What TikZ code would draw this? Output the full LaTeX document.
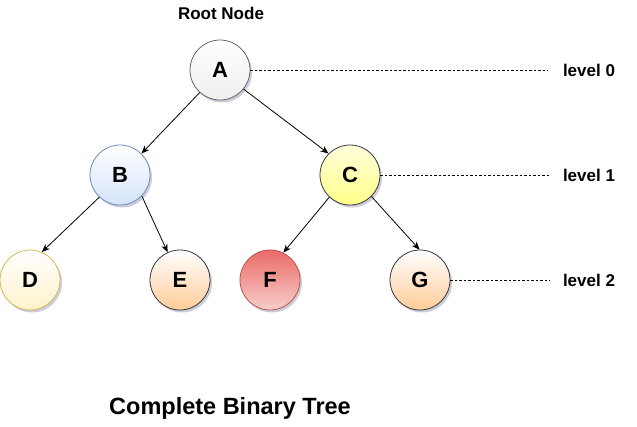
\documentclass[tikz,border=0pt]{standalone}
\usepackage{fontspec}
\setmainfont{Liberation Sans}
\usepackage{xcolor}
\usepackage{tikz}
\usetikzlibrary{arrows.meta,shadows}

\definecolor{bordoA}{HTML}{666666}
\definecolor{fondoA}{HTML}{EFEFEF}
\definecolor{bordoB}{HTML}{6C8EBF}
\definecolor{fondoB}{HTML}{D4E4FA}
\definecolor{bordoC}{HTML}{36393D}
\definecolor{fondoC}{HTML}{FFFF88}
\definecolor{bordoD}{HTML}{D6B656}
\definecolor{fondoD}{HTML}{FFF2CC}
\definecolor{fondoE}{HTML}{FFCC99}
\definecolor{bordoF}{HTML}{B85450}
\definecolor{altoF}{HTML}{EA6B66}
\definecolor{bassoF}{HTML}{F8CECC}

\begin{document}
\begin{tikzpicture}[x=1pt, y=-1pt,
  nodo/.style={circle, minimum size=60pt, inner sep=0pt, line width=0.8pt,
    font=\fontsize{22}{22}\selectfont\bfseries,
    drop shadow={shadow xshift=2pt, shadow yshift=-2.5pt, opacity=0.2, fill=black!70!blue}},
  freccia/.style={line width=0.8pt, -{Stealth[length=8pt,width=6.5pt,inset=2.5pt]}},
  livello/.style={line width=0.6pt, dash pattern=on 2.5pt off 2pt},
  scritta/.style={font=\fontsize{17}{20}\selectfont\bfseries}]

\useasboundingbox (0,0) rectangle (637,426);

% Nodi dell'albero
\node[nodo, draw=bordoA, top color=white, bottom color=fondoA] (A) at (220,70) {A};
\node[nodo, draw=bordoB, top color=white, bottom color=fondoB] (B) at (120,175) {B};
\node[nodo, draw=bordoC, top color=white!70!fondoC, bottom color=fondoC] (C) at (350,175) {C};
\node[nodo, draw=bordoD, top color=white, bottom color=fondoD] (D) at (30,280) {D};
\node[nodo, draw=bordoC, top color=white, bottom color=fondoE] (E) at (180,280) {E};
\node[nodo, draw=bordoF, top color=altoF, bottom color=bassoF] (F) at (270,280) {F};
\node[nodo, draw=bordoC, top color=white, bottom color=fondoE] (G) at (420,280) {G};

% Archi
\draw[freccia] (A.228) -- (B.45);
\draw[freccia] (A.321) -- (C.135);
\draw[freccia] (B.227) -- (D.67);
\draw[freccia] (B.316) -- (E.114);
\draw[freccia] (C.227) -- (F.64);
\draw[freccia] (C.315) -- (G.91);

% Livelli
\node[scritta] (liv0) at (589,70) {level 0};
\node[scritta] (liv1) at (589,175) {level 1};
\node[scritta] (liv2) at (589,280) {level 2};
\coordinate (fine0) at (548,70);
\coordinate (fine1) at (550,175);
\coordinate (fine2) at (550,280);
\draw[livello] (A.east) -- (fine0);
\draw[livello] (C.east) -- (fine1);
\draw[livello] (G.east) -- (fine2);

% Etichette
\node[scritta] (radice) at (221,13) {Root Node};
\node[font=\fontsize{23.5}{26}\selectfont\bfseries] (titolo) at (230,408) {Complete Binary Tree};

\end{tikzpicture}
\end{document}
